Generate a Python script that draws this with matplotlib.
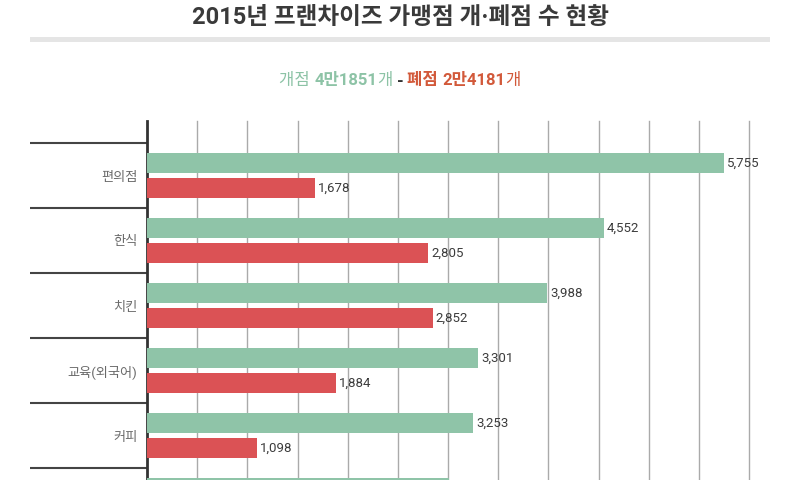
import matplotlib
matplotlib.use("Agg")
import matplotlib.pyplot as plt
import numpy as np

plt.rcParams['font.family'] = ['Roboto', 'Noto Sans CJK KR', 'DejaVu Sans']

categories = ['편의점', '한식', '치킨', '교육(외국어)', '커피', '분식']
opened = [5755, 4552, 3988, 3301, 3253, 3006]
closed = [1678, 2805, 2852, 1884, 1098, np.nan]

title = '2015년 프랜차이즈 가맹점 개·폐점 수 현황'
GREEN = '#8fc4a8'
RED = '#db5255'
GREEN_TXT = '#8dc3a6'
RED_TXT = '#d2593a'

W, H = 800, 480
fig = plt.figure(figsize=(8, 4.8), dpi=100)
fig.patch.set_facecolor('white')

# axes geometry in pixels
ax_left, ax_right, ax_top = 147, 749, 121
band = 65.0
pad = 22.0
n = len(categories)
ylo = -0.5 - pad / band
yhi = n - 0.5 + pad / band
ax_h = (yhi - ylo) * band
ax = fig.add_axes([ax_left / W, (H - ax_top - ax_h) / H, (ax_right - ax_left) / W, ax_h / H])
ax.set_xlim(0, 6000)
ax.set_ylim(yhi, ylo)

y = np.arange(n)
bh = 20 / band
off = 12.5 / band
ax.barh(y - off, opened, height=bh, color=GREEN, zorder=3)
ax.barh(y + off, closed, height=bh, color=RED, zorder=3)


def visible(yv):
    # pixel row (from top) of a data y position; only label what falls on the canvas
    return ax_top + (yv - ylo) * band < H - 6


for yi, v in zip(y, opened):
    if not np.isnan(v) and visible(yi - off):
        ax.annotate(f'{v:,.0f}', (v, yi - off), xytext=(2, 0), textcoords='offset points',
                    va='center', ha='left', fontsize=9.5, color='#3c3c3c', zorder=5)
for yi, v in zip(y, closed):
    if not np.isnan(v) and visible(yi + off):
        ax.annotate(f'{v:,.0f}', (v, yi + off), xytext=(2, 0), textcoords='offset points',
                    va='center', ha='left', fontsize=9.5, color='#3c3c3c', zorder=5)

ax.set_xticks(np.arange(500, 6001, 500))
ax.tick_params(axis='x', length=0, labelbottom=False)
ax.grid(axis='x', color='#aaaaaa', linewidth=1, zorder=0)
for gl in ax.get_xgridlines():
    gl.set_clip_on(False)
ax.set_yticks(y)
ax.set_yticklabels([c if visible(yi) else '' for c, yi in zip(categories, y)],
                   fontsize=9.5, color='#6a6a6a')
ax.tick_params(axis='y', which='major', length=0, pad=7)
ax.set_yticks(np.arange(n + 1) - 0.5, minor=True)
ax.tick_params(axis='y', which='minor', length=117 * 0.72, width=1.5, color='#444444')
for s in ['top', 'right', 'bottom']:
    ax.spines[s].set_visible(False)
ax.spines['left'].set_color('#333333')
ax.spines['left'].set_linewidth(2)
ax.set_axisbelow(True)

# title
fig.text(400 / W, 1 - 17 / H, title, ha='center', va='center', fontsize=17,
         fontweight='bold', color='#3a3a3a')
# gray rule
fig.add_artist(plt.Rectangle((30 / W, 1 - 42 / H), 740 / W, 5 / H, transform=fig.transFigure,
                             color='#e5e5e5', lw=0))

# subtitle pieces
pieces = [
    ('개점 ', GREEN_TXT, 'normal'),
    ('4만1851', GREEN_TXT, 'bold'),
    ('개', GREEN_TXT, 'normal'),
    (' - ', '#333333', 'bold'),
    ('폐점 ', RED_TXT, 'bold'),
    ('2만4181', RED_TXT, 'bold'),
    ('개', RED_TXT, 'normal'),
]
fig.canvas.draw()
r = fig.canvas.get_renderer()
texts = []
for s, c, w in pieces:
    t = fig.text(0, 1 - 81 / H, s, ha='left', va='center', fontsize=12, color=c, fontweight=w)
    texts.append(t)
widths = []
for t in texts:
    bb = t.get_window_extent(renderer=r)
    widths.append(bb.width)
total = sum(widths)
x = 400 - total / 2
for t, wd in zip(texts, widths):
    t.set_x(x / W)
    x += wd

fig.savefig('out.png', dpi=100)
